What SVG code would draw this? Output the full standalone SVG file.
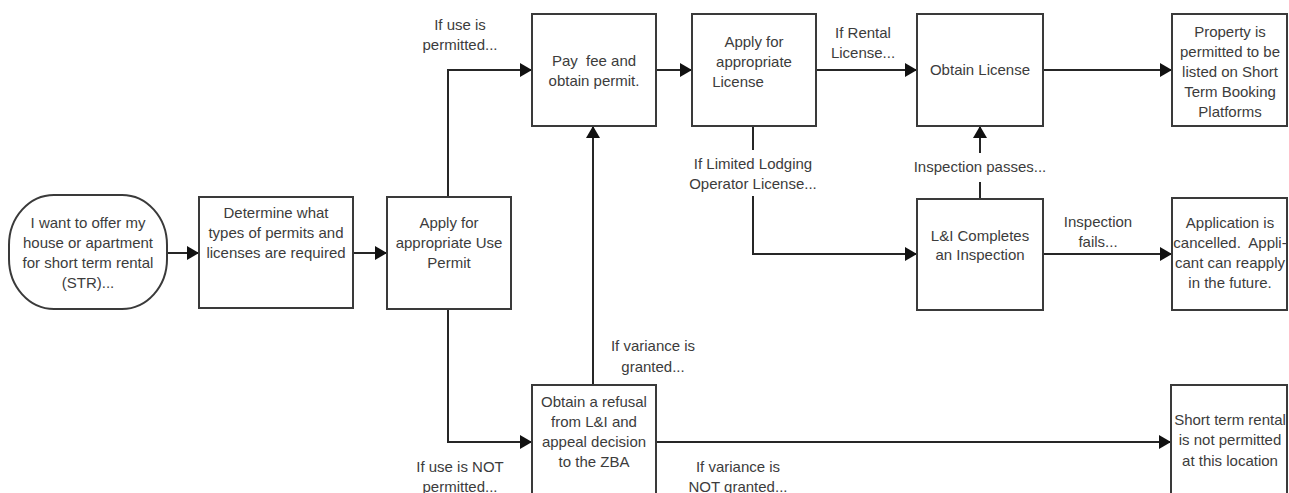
<svg xmlns="http://www.w3.org/2000/svg" width="1289" height="493" viewBox="0 0 1289 493">
<style>
.box{fill:#fff;stroke:#3a3a3a;stroke-width:2}
.t{font-family:"Liberation Sans",Arial,sans-serif;font-size:15px;fill:#3c3c3c;text-anchor:middle;white-space:pre}
.c{fill:none;stroke:#262626;stroke-width:2}
.a{marker-end:url(#arr)}
</style>
<defs>
<marker id="arr" markerUnits="userSpaceOnUse" markerWidth="12" markerHeight="14" refX="12" refY="7" orient="auto">
<path d="M0,0 L12,7 L0,14 z" fill="#111"/>
</marker>
</defs>
<rect width="1289" height="493" fill="#fff"/>
<g id="connectors">
<path class="c a" d="M167,253 H199"/>
<path class="c a" d="M353,253 H387"/>
<path class="c a" d="M448,197 V70 H532"/>
<path class="c a" d="M448,309 V442 H532"/>
<path class="c a" d="M593,385 V126"/>
<path class="c a" d="M656,70 H692"/>
<path class="c a" d="M816,70 H917"/>
<path class="c" d="M753,126 V150"/>
<path class="c a" d="M753,196 V254 H917"/>
<path class="c" d="M980,199 V182"/>
<path class="c a" d="M980,153 V126"/>
<path class="c a" d="M1043,70 H1172"/>
<path class="c a" d="M1043,254 H1172"/>
<path class="c a" d="M656,442 H1171"/>
</g>
<g id="labels">
<text class="t" x="460" y="30">If use is</text>
<text class="t" x="460" y="50">permitted...</text>
<text class="t" x="863" y="38">If Rental</text>
<text class="t" x="863" y="58">License...</text>
<text class="t" x="753" y="169">If Limited Lodging</text>
<text class="t" x="753" y="189">Operator License...</text>
<text class="t" x="980" y="172">Inspection passes...</text>
<text class="t" x="1098" y="227">Inspection</text>
<text class="t" x="1098" y="247">fails...</text>
<text class="t" x="653" y="351">If variance is</text>
<text class="t" x="653" y="372">granted...</text>
<text class="t" x="460" y="472">If use is NOT</text>
<text class="t" x="460" y="492">permitted...</text>
<text class="t" x="738" y="472">If variance is</text>
<text class="t" x="738" y="492">NOT granted...</text>
</g>
<g id="start">
<rect class="box" x="9" y="195" width="158" height="114" rx="45" ry="50"/>
<text class="t" x="88" y="228">I want to offer my</text>
<text class="t" x="88" y="248">house or apartment</text>
<text class="t" x="88" y="268">for short term rental</text>
<text class="t" x="88" y="288">(STR)...</text>
</g>
<g id="determine">
<rect class="box" x="199" y="197" width="154" height="111"/>
<text class="t" x="276" y="218">Determine what</text>
<text class="t" x="276" y="238">types of permits and</text>
<text class="t" x="276" y="258">licenses are required</text>
</g>
<g id="usepermit">
<rect class="box" x="387" y="197" width="124" height="112"/>
<text class="t" x="449" y="228">Apply for</text>
<text class="t" x="449" y="248">appropriate Use</text>
<text class="t" x="449" y="268">Permit</text>
</g>
<g id="payfee">
<rect class="box" x="532" y="14" width="124" height="112"/>
<text class="t" x="594" y="66">Pay  fee and</text>
<text class="t" x="594" y="86">obtain permit.</text>
</g>
<g id="applylicense">
<rect class="box" x="692" y="14" width="124" height="112"/>
<text class="t" x="754" y="47">Apply for</text>
<text class="t" x="754" y="67">appropriate</text>
<text class="t" x="738" y="87">License</text>
</g>
<g id="obtainlicense">
<rect class="box" x="917" y="14" width="126" height="112"/>
<text class="t" x="980" y="75">Obtain License</text>
</g>
<g id="property">
<rect class="box" x="1172" y="14" width="115" height="112"/>
<text class="t" x="1230" y="37">Property is</text>
<text class="t" x="1230" y="57">permitted to be</text>
<text class="t" x="1230" y="77">listed on Short</text>
<text class="t" x="1230" y="97">Term Booking</text>
<text class="t" x="1230" y="117">Platforms</text>
</g>
<g id="inspection">
<rect class="box" x="917" y="199" width="126" height="111"/>
<text class="t" x="980" y="241">L&amp;I Completes</text>
<text class="t" x="980" y="260">an Inspection</text>
</g>
<g id="cancelled">
<rect class="box" x="1172" y="198" width="115" height="112"/>
<text class="t" x="1230" y="228">Application is</text>
<text class="t" x="1230" y="248">cancelled.  Appli-</text>
<text class="t" x="1230" y="268">cant can reapply</text>
<text class="t" x="1230" y="288">in the future.</text>
</g>
<g id="zba">
<rect class="box" x="532" y="385" width="124" height="120"/>
<text class="t" x="594" y="407">Obtain a refusal</text>
<text class="t" x="594" y="427">from L&amp;I and</text>
<text class="t" x="594" y="447">appeal decision</text>
<text class="t" x="594" y="467">to the ZBA</text>
</g>
<g id="notpermitted">
<rect class="box" x="1171" y="385" width="116" height="120"/>
<text class="t" x="1230" y="425">Short term rental</text>
<text class="t" x="1230" y="445">is not permitted</text>
<text class="t" x="1230" y="466">at this location</text>
</g>
</svg>
